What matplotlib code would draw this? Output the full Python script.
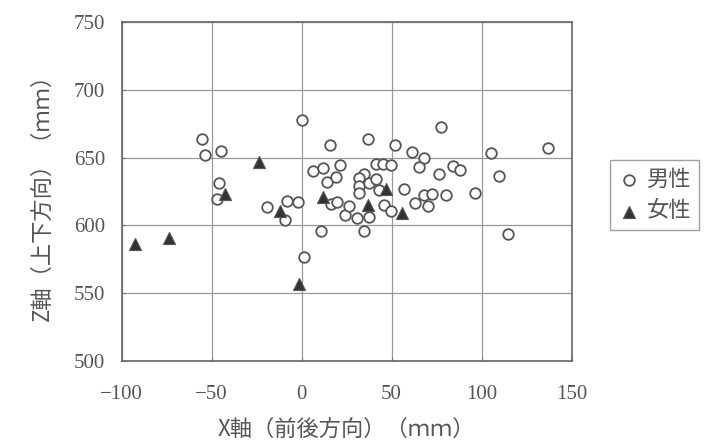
import matplotlib
matplotlib.use('Agg')
import matplotlib.pyplot as plt
import numpy as np

plt.rcParams['font.family'] = ['Noto Sans CJK JP', 'DejaVu Sans']

# 男性 (circles)
male_x = [0, -55.4, -53.5, -44.6, 6.1, -45.7, -47, -19.3, -8.2, -2.2, -9.1, 11,
          1.1, 77.2, 36.8, 15.8, 51.8, 136.7, 105.3, 61.2, 68.2, 65, 84, 88,
          109.6, 76.2, 21.2, 12, 14.3, 19.3, 41.1, 45.3, 49.4, 34.5, 31.7, 31.7,
          31.7, 37.4, 41.1, 43, 56.9, 45.8, 49.4, 37.4, 30.6, 24, 26.5, 16.2,
          19.9, 34.4, 63.1, 68.2, 72.4, 70, 80, 96.3, 114.7]
male_z = [678, 664, 652, 655, 640, 631, 619.5, 614, 618, 617, 604, 596,
          577, 672.4, 664, 659.3, 659.3, 656.8, 653.2, 654.2, 650, 643.5, 644, 640.6,
          636.3, 638, 644.3, 642.7, 632.4, 635.7, 645.2, 645.5, 644.7, 638.3, 635, 629.4,
          624.3, 631.3, 634.3, 626, 626.8, 615.3, 611, 606.4, 605.8, 607.6, 614.6, 616,
          617, 596, 616.3, 622.5, 623.5, 614.6, 622.2, 623.8, 594]

# 女性 (triangles)
female_x = [-92.4, -73.5, -42.4, -23.9, -11.9, -1.7, 11.8, 36.8, 46.8, 56]
female_z = [586, 591, 623, 647, 611, 557, 621, 615, 627, 609]

fig = plt.figure(figsize=(7.07, 4.43), dpi=100)
ax = fig.add_axes([0.172, 0.185, 0.6365, 0.765])

ax.scatter(male_x, male_z, s=58, facecolors='white', edgecolors='#555555',
           linewidths=1.3, label='男性', zorder=3)
ax.scatter(female_x, female_z, s=75, marker='^', facecolors='#333333',
           edgecolors='#555555', linewidths=0.8, label='女性', zorder=4)

ax.set_xlim(-100, 150)
ax.set_ylim(500, 750)
ax.set_xticks(np.arange(-100, 151, 50))
ax.set_yticks(np.arange(500, 751, 50))
ax.grid(True, color='#999999', linewidth=0.9)
ax.set_axisbelow(True)
for s in ax.spines.values():
    s.set_color('#666666')
    s.set_linewidth(1.2)
ax.tick_params(direction='in', length=3, color='#777777', labelcolor='#555555')
ax.tick_params(axis='x', pad=17)
ax.tick_params(axis='y', pad=12)
for lab in ax.get_xticklabels() + ax.get_yticklabels():
    lab.set_family('Liberation Serif')
    lab.set_fontsize(15)

ax.set_xlabel('X軸（前後方向）（ｍｍ）', fontsize=16, color='#555555', labelpad=10)
ax.set_ylabel('Z軸（上下方向）（ｍｍ）', fontsize=16, color='#555555', labelpad=14)

leg = ax.legend(loc='center left', bbox_to_anchor=(1.06, 0.49), fontsize=16,
                frameon=True, fancybox=False, edgecolor='#888888',
                handletextpad=0.3, borderpad=0.35, labelspacing=0.4,
                handlelength=1.0, labelcolor='#555555')
leg.get_frame().set_linewidth(1.0)

fig.savefig('out.png', dpi=100)
